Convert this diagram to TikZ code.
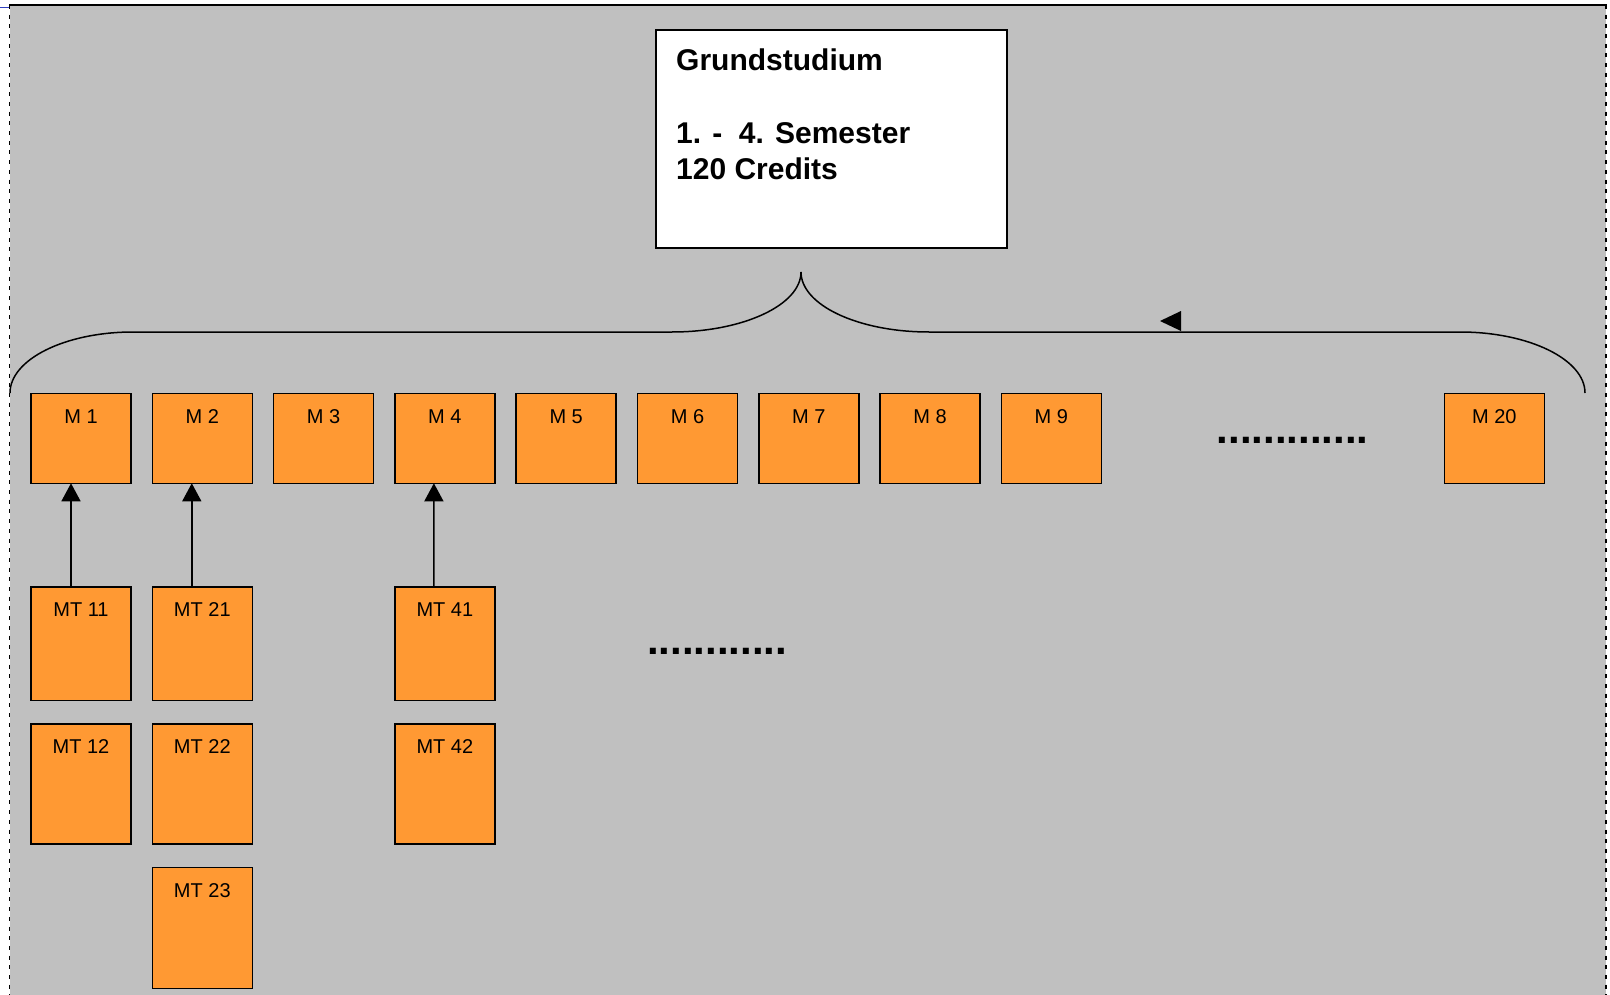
\documentclass[tikz,border=0pt]{standalone}
\usepackage{fontspec}
\setmainfont{Liberation Sans}
\usetikzlibrary{arrows.meta}
\definecolor{bggray}{HTML}{C0C0C0}
\definecolor{modorange}{HTML}{FF9933}
\definecolor{edgeblue}{HTML}{3040C0}
\begin{document}
\begin{tikzpicture}[x=1pt,y=-1pt,
  mod/.style={draw=black, line width=1.5pt, fill=modorange, minimum width=100pt,
    inner sep=0pt, outer sep=0pt, anchor=north west, align=center,
    font=\fontsize{20}{24}\selectfont},
  mrow/.style={mod, text height=29.8pt, text depth=60pt},
  mtA/.style={mod, text height=29.5pt, text depth=84pt},
  mtB/.style={mod, text height=29.5pt, text depth=90.5pt},
  mtC/.style={mod, text height=29.5pt, text depth=91.5pt},
  titlebox/.style={draw=black, line width=1.5pt, fill=white, minimum width=351pt,
    minimum height=218pt, inner sep=0pt, outer sep=0pt, anchor=north west},
  titletext/.style={inner sep=0pt, anchor=base west, font=\fontsize{30}{36}\selectfont\bfseries},
  dotrow/.style={inner sep=0pt, anchor=base west, font=\fontsize{42}{48}\selectfont\bfseries},
  brace/.style={draw=black, line width=1.5pt},
  arr/.style={draw=black, line width=1.5pt, -{Triangle[length=18pt,width=19pt]}},
  frameside/.style={draw=black, line width=1.6pt, dash pattern=on 4pt off 5.7pt}
]
\useasboundingbox (0,0) rectangle (1610,995);
% background and frame
\fill[bggray] (10,5) rectangle (1606,995);
\draw[line width=1.4pt] (9,5) -- (1606.5,5);
\draw[frameside] (9.3,5) -- (9.3,995);
\draw[frameside] (1606,5) -- (1606,995);
\draw[edgeblue, line width=1.5pt] (0,7.3) -- (8.5,7.3);

% title box
\node[titlebox] (gs) at (656,30) {};
\node[titletext] (t1) at (676,71) {Grundstudium};
\node[titletext] (t2) at (676,143.5) {1. -\ \ 4. Semester};
\node[titletext] (t3) at (676,179.5) {120 Credits};

% brace
\draw[brace] (10,393) .. controls (10,359.5) and (65,332) .. (133,332)
  -- (672,332) .. controls (743,332) and (801,305) .. (801,272)
  .. controls (801,305) and (858,332) .. (929,332)
  -- (1460,332) .. controls (1529,332) and (1585,359.5) .. (1585,393);
\fill[black] (1160,321) -- (1181,311) -- (1181,331) -- cycle;

% module row
\foreach \i in {1,...,9} {
  \node[mrow] (m\i) at ({31+121.3*(\i-1)},393.5) {M \i};
}
\node[mrow] (m20) at (1444.3,393.5) {M 20};
\node[dotrow] (dotsA) at (1216.5,443) {.............};

% sub-modules
\node[mtA] (mt11) at (31,587) {MT 11};
\node[mtB] (mt12) at (31,724) {MT 12};
\node[mtA] (mt21) at (152.3,587) {MT 21};
\node[mtB] (mt22) at (152.3,724) {MT 22};
\node[mtC] (mt23) at (152.3,867.5) {MT 23};
\node[mtA] (mt41) at (394.9,587) {MT 41};
\node[mtB] (mt42) at (394.9,724) {MT 42};
\node[dotrow] (dotsB) at (647,654.5) {............};

% arrows
\draw[arr] ([xshift=-10pt]mt11.north) -- ([xshift=-10pt]m1.south);
\draw[arr] ([xshift=-10.5pt]mt21.north) -- ([xshift=-10.5pt]m2.south);
\draw[arr] ([xshift=-11pt]mt41.north) -- ([xshift=-11pt]m4.south);
\end{tikzpicture}
\end{document}
